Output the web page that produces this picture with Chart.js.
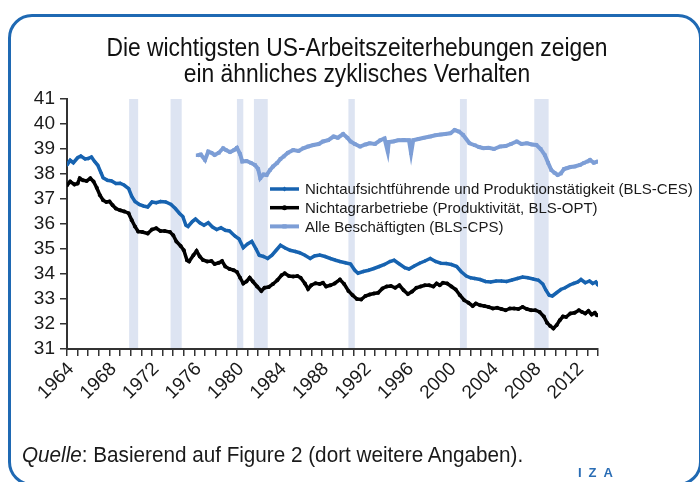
<!DOCTYPE html>
<html>
<head>
<meta charset="utf-8">
<script src="https://cdn.jsdelivr.net/npm/chart.js@4.4.1/dist/chart.umd.min.js"></script>
<style>
    body { margin: 0; background: #fff; }
    #wrap { position: relative; width: 700px; height: 482px; overflow: hidden; }
    #frame {
        position: absolute; left: 8px; top: 14px; width: 694px; height: 472px;
        border: 3px solid #1f69b3; border-radius: 24px; box-sizing: border-box;
    }
    #hoursChart { position: absolute; left: 0; top: 0; }
    #title {
        position: absolute; left: 7px; top: 34px; width: 700px; text-align: center;
        font: 25px/26px 'Liberation Sans', Arial, sans-serif; color: #111;
    }
    #title div { transform: scaleX(0.913); }
    #source {
        position: absolute; left: 22px; top: 442px; transform-origin: 0 0; transform: scaleX(0.94);
        font: 22px 'Liberation Sans', Arial, sans-serif; color: #1a1a1a; white-space: nowrap;
    }
    #iza {
        position: absolute; left: 578px; top: 465px;
        font: bold 13px 'Liberation Sans', sans-serif; color: #2a6db5; letter-spacing: 7px;
    }
</style>
</head>
<body>
<div id="wrap">
    <div id="frame"></div>
    <canvas id="hoursChart" width="700" height="482"></canvas>
    <div id="title">
        <div>Die wichtigsten US-Arbeitszeiterhebungen zeigen</div>
        <div>ein ähnliches zyklisches Verhalten</div>
    </div>
    <div id="source"><i>Quelle</i>: Basierend auf Figure 2 (dort weitere Angaben).</div>
    <div id="iza">IZA</div>
</div>
<script>
// Nichtaufsichtführende und Produktionstätigkeit (BLS-CES)
const cesYears = [1964.0, 1964.3, 1964.6, 1965.0, 1965.3, 1965.7, 1966.0, 1966.3, 1966.6, 1966.9,
    1967.2, 1967.4, 1967.8, 1968.2, 1968.6, 1969.0, 1969.4, 1969.8, 1970.1, 1970.4,
    1970.8, 1971.2, 1971.6, 1972.0, 1972.4, 1972.8, 1973.3, 1973.8, 1974.2, 1974.6,
    1974.9, 1975.2, 1975.4, 1975.8, 1976.1, 1976.5, 1976.9, 1977.3, 1977.7, 1978.1,
    1978.5, 1978.9, 1979.3, 1979.8, 1980.2, 1980.6, 1981.0, 1981.4, 1981.8, 1982.1,
    1982.5, 1982.9, 1983.3, 1983.7, 1984.1, 1984.5, 1985.0, 1985.5, 1985.9, 1986.4,
    1986.9, 1987.3, 1987.8, 1988.3, 1988.8, 1989.3, 1989.7, 1990.2, 1990.7, 1991.1,
    1991.4, 1991.9, 1992.4, 1992.9, 1993.4, 1993.9, 1994.4, 1994.8, 1995.3, 1995.8,
    1996.2, 1996.7, 1997.2, 1997.7, 1998.2, 1998.7, 1999.2, 1999.7, 2000.2, 2000.7,
    2001.1, 2001.6, 2002.0, 2002.4, 2002.9, 2003.4, 2003.9, 2004.4, 2004.9, 2005.4,
    2005.9, 2006.4, 2006.9, 2007.4, 2007.9, 2008.4, 2008.8, 2009.1, 2009.4, 2009.7,
    2010.1, 2010.5, 2010.9, 2011.3, 2011.7, 2012.1, 2012.4, 2012.8, 2013.2, 2013.5,
    2013.8, 2014.0];
const cesHours = [38.36, 38.55, 38.45, 38.65, 38.72, 38.6, 38.62, 38.68, 38.5, 38.35,
    38.05, 37.85, 37.75, 37.72, 37.62, 37.63, 37.55, 37.42, 37.1, 36.9,
    36.78, 36.72, 36.68, 36.88, 36.85, 36.9, 36.88, 36.78, 36.62, 36.42,
    36.3, 35.95, 35.9, 36.1, 36.2, 36.05, 35.95, 36.05, 35.88, 35.78,
    35.85, 35.75, 35.72, 35.52, 35.4, 35.05, 35.2, 35.3, 35.0, 34.75,
    34.7, 34.62, 34.75, 34.95, 35.15, 35.05, 34.95, 34.9, 34.85, 34.75,
    34.62, 34.72, 34.76, 34.7, 34.62, 34.55, 34.5, 34.45, 34.4, 34.15,
    34.03, 34.1, 34.15, 34.22, 34.3, 34.38, 34.5, 34.55, 34.4, 34.25,
    34.2, 34.32, 34.43, 34.52, 34.62, 34.5, 34.43, 34.42, 34.38, 34.3,
    34.1, 33.92, 33.85, 33.82, 33.78, 33.7, 33.68, 33.72, 33.72, 33.7,
    33.76, 33.82, 33.88, 33.85, 33.8, 33.75, 33.6, 33.35, 33.15, 33.12,
    33.25, 33.38, 33.45, 33.55, 33.62, 33.68, 33.78, 33.65, 33.72, 33.62,
    33.68, 33.55];

// Nichtagrarbetriebe (Produktivität, BLS-OPT)
const optYears = [1964.0, 1964.3, 1964.7, 1965.0, 1965.2, 1965.5, 1965.85, 1966.2, 1966.5, 1966.8,
    1967.1, 1967.4, 1967.7, 1968.0, 1968.3, 1968.6, 1969.0, 1969.4, 1969.8, 1970.1,
    1970.4, 1970.7, 1971.1, 1971.6, 1972.0, 1972.4, 1972.8, 1973.2, 1973.7, 1974.0,
    1974.3, 1974.7, 1975.0, 1975.3, 1975.5, 1975.9, 1976.2, 1976.5, 1976.8, 1977.2,
    1977.6, 1977.9, 1978.3, 1978.6, 1978.9, 1979.3, 1979.7, 1980.0, 1980.3, 1980.6,
    1980.9, 1981.2, 1981.5, 1981.9, 1982.3, 1982.6, 1983.0, 1983.4, 1983.8, 1984.2,
    1984.5, 1984.9, 1985.3, 1985.7, 1986.0, 1986.4, 1986.7, 1987.0, 1987.4, 1987.8,
    1988.1, 1988.4, 1988.8, 1989.2, 1989.7, 1990.1, 1990.5, 1990.9, 1991.3, 1991.7,
    1992.1, 1992.5, 1992.9, 1993.3, 1993.7, 1994.1, 1994.5, 1994.9, 1995.3, 1995.7,
    1996.1, 1996.5, 1996.9, 1997.3, 1997.7, 1998.1, 1998.5, 1998.8, 1999.1, 1999.4,
    1999.8, 2000.2, 2000.6, 2001.0, 2001.4, 2001.8, 2002.2, 2002.5, 2002.9, 2003.3,
    2003.7, 2004.1, 2004.5, 2004.9, 2005.3, 2005.7, 2006.1, 2006.5, 2006.9, 2007.3,
    2007.7, 2008.1, 2008.5, 2008.9, 2009.2, 2009.5, 2009.8, 2010.1, 2010.4, 2010.7,
    2011.0, 2011.4, 2011.8, 2012.2, 2012.5, 2012.8, 2013.1, 2013.4, 2013.7, 2013.9];
const optHours = [37.55, 37.7, 37.58, 37.62, 37.83, 37.75, 37.72, 37.83, 37.7, 37.45,
    37.15, 36.95, 36.88, 36.9, 36.75, 36.62, 36.55, 36.5, 36.43, 36.15,
    35.9, 35.7, 35.68, 35.62, 35.78, 35.83, 35.72, 35.72, 35.68, 35.55,
    35.3, 35.12, 34.95, 34.55, 34.5, 34.75, 34.92, 34.7, 34.56, 34.5,
    34.52, 34.4, 34.45, 34.52, 34.3, 34.2, 34.15, 34.08, 33.85, 33.62,
    33.7, 33.85, 33.7, 33.5, 33.32, 33.45, 33.48, 33.6, 33.75, 33.95,
    34.03, 33.92, 33.9, 33.92, 33.85, 33.62, 33.4, 33.55, 33.63, 33.6,
    33.65, 33.5, 33.55, 33.62, 33.78, 33.6, 33.32, 33.15, 33.0, 32.98,
    33.12, 33.18, 33.22, 33.25, 33.42, 33.5, 33.52, 33.45, 33.55, 33.35,
    33.2, 33.3, 33.45, 33.5, 33.55, 33.55, 33.5, 33.62, 33.55, 33.65,
    33.62, 33.5, 33.38, 33.15, 32.95, 32.85, 32.72, 32.82, 32.75, 32.72,
    32.68, 32.62, 32.65, 32.6, 32.55, 32.62, 32.62, 32.6, 32.68, 32.6,
    32.55, 32.55, 32.48, 32.3, 32.05, 31.92, 31.82, 31.95, 32.15, 32.3,
    32.28, 32.42, 32.45, 32.55, 32.48, 32.42, 32.52, 32.38, 32.45, 32.35];

// Alle Beschäftigten (BLS-CPS)
const cpsYears = [1976.3, 1976.6, 1977.0, 1977.3, 1977.6, 1977.9, 1978.3, 1978.7, 1979.0, 1979.35,
    1979.7, 1980.0, 1980.3, 1980.5, 1980.9, 1981.3, 1981.7, 1982.0, 1982.2, 1982.5,
    1982.8, 1983.1, 1983.4, 1983.8, 1984.1, 1984.4, 1984.8, 1985.3, 1985.8, 1986.25,
    1986.7, 1987.2, 1987.7, 1988.1, 1988.6, 1989.1, 1989.5, 1990.0, 1990.4, 1990.7,
    1991.1, 1991.6, 1992.1, 1992.5, 1993.0, 1993.5, 1993.9, 1994.2, 1994.3, 1994.7,
    1995.2, 1995.7, 1996.2, 1996.4, 1996.6, 1997.1, 1997.6, 1998.2, 1998.7, 1999.2,
    1999.6, 2000.1, 2000.5, 2000.9, 2001.3, 2001.9, 2002.4, 2002.8, 2003.2, 2003.7,
    2004.2, 2004.8, 2005.3, 2005.8, 2006.35, 2006.8, 2007.3, 2007.8, 2008.2, 2008.6,
    2009.0, 2009.3, 2009.6, 2009.9, 2010.2, 2010.5, 2010.8, 2011.05, 2011.4, 2011.8,
    2012.3, 2012.7, 2013.0, 2013.25, 2013.6, 2014.0];
const cpsHours = [38.75, 38.78, 38.56, 38.9, 38.85, 38.76, 38.85, 39.03, 38.95, 38.88,
    38.95, 39.05, 38.8, 38.5, 38.52, 38.45, 38.36, 38.2, 37.83, 37.98,
    37.96, 38.15, 38.3, 38.45, 38.6, 38.7, 38.85, 38.96, 38.92, 39.03,
    39.1, 39.16, 39.2, 39.3, 39.35, 39.5, 39.45, 39.6, 39.45, 39.3,
    39.2, 39.1, 39.18, 39.23, 39.2, 39.35, 39.42, 38.9, 39.28, 39.3,
    39.35, 39.36, 39.35, 38.83, 39.35, 39.4, 39.45, 39.5, 39.55, 39.58,
    39.6, 39.63, 39.76, 39.7, 39.56, 39.23, 39.15, 39.08, 39.03, 39.05,
    39.0, 39.1, 39.12, 39.2, 39.3, 39.2, 39.23, 39.18, 39.16, 39.0,
    38.75, 38.45, 38.16, 38.05, 37.96, 38.02, 38.2, 38.23, 38.28, 38.3,
    38.36, 38.45, 38.5, 38.56, 38.45, 38.5];

// Rezessionen (schattiert)
const recessionStart = [1969.85, 1973.75, 1980.0, 1981.6, 1990.5, 2001.0, 2008.0];
const recessionEnd = [1970.7, 1974.8, 1980.6, 1982.9, 1991.1, 2001.65, 2009.35];

const toPoints = (years, values) => years.map((x, i) => ({ x: x, y: values[i] }));

const recessionBands = {
    id: 'recessionBands',
    beforeDraw(chart) {
        const { ctx, chartArea, scales } = chart;
        ctx.save();
        ctx.fillStyle = '#dde4f2';
        recessionStart.forEach((start, i) => {
            const x0 = scales.x.getPixelForValue(start);
            const x1 = scales.x.getPixelForValue(recessionEnd[i]);
            ctx.fillRect(x0, chartArea.top, x1 - x0, chartArea.bottom - chartArea.top);
        });
        ctx.restore();
    }
};

// legend drawn inside the plot, like the original
const insideLegend = {
    id: 'insideLegend',
    afterDraw(chart) {
        const ctx = chart.ctx;
        ctx.save();
        ctx.font = "15px 'Liberation Sans', Arial, sans-serif";
        ctx.textBaseline = 'middle';
        chart.data.datasets.forEach((ds, i) => {
            const y = 189 + i * 18.7;
            ctx.strokeStyle = ds.borderColor;
            ctx.lineWidth = ds.borderWidth;
            ctx.beginPath();
            ctx.moveTo(270, y);
            ctx.lineTo(299, y);
            ctx.stroke();
            ctx.fillStyle = ds.borderColor;
            Chart.helpers.drawPoint(ctx, { pointStyle: ds.pointStyle, radius: ds.pointRadius + 0.5, rotation: 0, borderWidth: 0 }, 284.5, y);
            ctx.fillStyle = '#1a1a1a';
            ctx.fillText(ds.label, 305, y + 1);
        });
        ctx.restore();
    }
};

const ctx = document.getElementById('hoursChart').getContext('2d');
window.hoursChartInstance = new Chart(ctx, {
    type: 'line',
    data: {
        datasets: [{
            label: 'Nichtaufsichtführende und Produktionstätigkeit (BLS-CES)',
            data: toPoints(cesYears, cesHours),
            borderColor: '#1763b0',
            backgroundColor: '#1763b0',
            borderWidth: 3.5,
            pointStyle: 'rectRot',
            pointRadius: 2,
            pointBorderWidth: 0
        }, {
            label: 'Nichtagrarbetriebe (Produktivität, BLS-OPT)',
            data: toPoints(optYears, optHours),
            borderColor: '#000000',
            backgroundColor: '#000000',
            borderWidth: 3.5,
            pointStyle: 'circle',
            pointRadius: 2,
            pointBorderWidth: 0
        }, {
            label: 'Alle Beschäftigten (BLS-CPS)',
            data: toPoints(cpsYears, cpsHours),
            borderColor: '#7d9ed6',
            backgroundColor: '#7d9ed6',
            borderWidth: 4,
            pointStyle: 'rect',
            pointRadius: 2.5,
            pointBorderWidth: 0
        }]
    },
    options: {
        responsive: false,
        animation: false,
        devicePixelRatio: 1,
        layout: { padding: { left: 10, right: 102, top: 99, bottom: 78 } },
        scales: {
            x: {
                type: 'linear',
                min: 1964,
                max: 2014,
                afterFit: (scale) => { scale.height = 55; },
                grid: { drawOnChartArea: false, drawTicks: true, tickLength: 7, color: '#333', lineWidth: 1.5 },
                border: { color: '#333', width: 2 },
                ticks: {
                    stepSize: 1,
                    autoSkip: false,
                    minRotation: 45,
                    maxRotation: 45,
                    padding: 2,
                    labelOffset: 4,
                    color: '#1a1a1a',
                    font: { size: 19, family: "'Liberation Sans', Arial, sans-serif" },
                    callback: (value) => (value % 4 === 0 ? String(value) : '')
                }
            },
            y: {
                min: 31,
                max: 41,
                afterFit: (scale) => { scale.width = 57; },
                grid: { drawOnChartArea: false, drawTicks: true, tickLength: 7, color: '#333', lineWidth: 1.5 },
                border: { color: '#333', width: 2 },
                ticks: {
                    stepSize: 1,
                    autoSkip: false,
                    padding: 5,
                    color: '#1a1a1a',
                    font: { size: 19, family: "'Liberation Sans', Arial, sans-serif" }
                }
            }
        },
        plugins: {
            legend: { display: false },
            tooltip: { enabled: false },
            title: { display: false }
        }
    },
    plugins: [recessionBands, insideLegend]
});
</script>
</body>
</html>
